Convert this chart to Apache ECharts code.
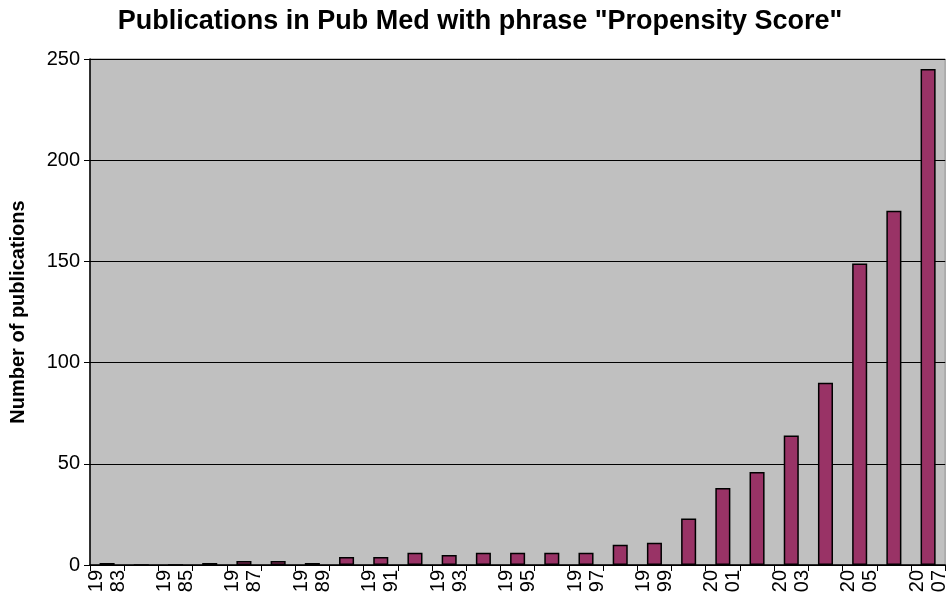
<!DOCTYPE html>
<html lang="en">
<head>
  <meta charset="UTF-8" />
  <title>Propensity Score publications</title>
  <script src="https://cdn.jsdelivr.net/npm/echarts@6/dist/echarts.min.js"></script>
  <style>
    html, body { margin: 0; padding: 0; background: #ffffff; }
    #main { width: 950px; height: 600px; }
  </style>
</head>
<body>
  <div id="main"></div>
  <script>
    // 年份
    var years = ["1983", "1984", "1985", "1986", "1987", "1988", "1989", "1990", "1991",
      "1992", "1993", "1994", "1995", "1996", "1997", "1998", "1999", "2000", "2001",
      "2002", "2003", "2004", "2005", "2006", "2007"];
    // 发表数量
    var counts = [1, 0, 0, 1, 2, 2, 1, 4, 4, 6, 5, 6, 6, 6, 6, 10, 11, 23, 38, 46, 64, 90, 149, 175, 245];
    var yTicks = [0, 50, 100, 150, 200, 250];

    var font = "Liberation Sans, Arial, sans-serif";
    var myChart = echarts.init(document.getElementById("main"));

    var option = {
      animation: false,
      title: {
        text: 'Publications in Pub Med with phrase "Propensity Score"',
        left: 475,
        textAlign: "center",
        top: 3,
        textStyle: { fontFamily: font, fontSize: 27, fontWeight: "bold", color: "#000" }
      },
      grid: {
        left: 87, right: 3, top: 59, bottom: 35,
        show: true,
        backgroundColor: "#c0c0c0",
        borderColor: "#8a8a8a",
        borderWidth: 1
      },
      xAxis: {
        type: "category",
        data: years,
        axisLine: { lineStyle: { color: "#000", width: 1.5 } },
        axisTick: { show: true, interval: 0, alignWithLabel: false, length: 6, lineStyle: { color: "#000" } },
        axisLabel: {
          interval: 1,
          rotate: 90,
          margin: 5,
          fontFamily: font,
          fontSize: 20,
          color: "#000",
          lineHeight: 22,
          formatter: function (v) { return v.slice(0, 2) + "\n" + v.slice(2); }
        }
      },
      yAxis: {
        type: "value",
        min: yTicks[0],
        max: yTicks[yTicks.length - 1],
        interval: 50,
        name: "Number of publications",
        nameLocation: "middle",
        nameGap: 62,
        nameTextStyle: { fontFamily: font, fontSize: 20, fontWeight: "bold", color: "#000" },
        axisLine: { show: true, lineStyle: { color: "#000", width: 1.5 } },
        axisTick: { show: true, length: 6, lineStyle: { color: "#000" } },
        axisLabel: { fontFamily: font, fontSize: 20, color: "#000", margin: 10 },
        splitLine: { show: true, lineStyle: { color: "#000", width: 1.2 } }
      },
      series: [
        {
          type: "bar",
          data: counts,
          barWidth: "44%",
          itemStyle: { color: "#993366", borderColor: "#000", borderWidth: 1.5 }
        }
      ]
    };

    myChart.setOption(option);
  </script>
</body>
</html>
